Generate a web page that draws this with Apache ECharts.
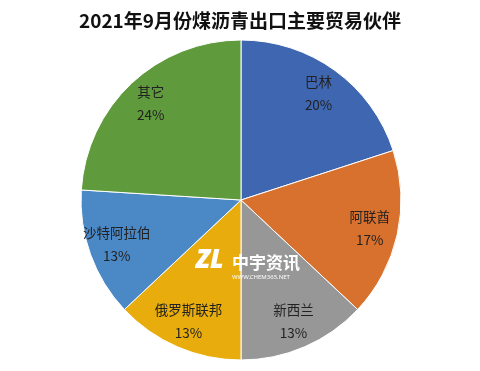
<!DOCTYPE html>
<html>
<head>
<meta charset="utf-8">
<script src="https://cdn.jsdelivr.net/npm/echarts@6/dist/echarts.min.js"></script>
<style>html,body{margin:0;padding:0;background:#fff}#c{width:480px;height:371px}</style>
</head>
<body>
<div id="c"></div>
<script>
var titleText = '2021年9月份煤沥青出口主要贸易伙伴';
var categories = ['巴林', '阿联酋', '新西兰', '俄罗斯联邦', '沙特阿拉伯', '其它'];
var shares = [20, 17, 13, 13, 13, 24];
var colors = ['#3f67b1', '#d8702e', '#979797', '#e8ad0c', '#4b88c6', '#5f9a3d'];

var data = categories.map(function (c, i) {
  return { name: c, value: shares[i], itemStyle: { color: colors[i] } };
});
var labelData = categories.map(function (c, i) {
  return { name: c, value: shares[i] };
});

var chart = echarts.init(document.getElementById('c'), null, { renderer: 'canvas' });
chart.setOption({
  animation: false,
  backgroundColor: '#fff',
  title: {
    text: titleText,
    left: 'center',
    top: 6,
    textStyle: { fontSize: 19, fontWeight: 'bold', color: '#111', fontFamily: 'Noto Sans CJK SC' }
  },
  series: [
    {
      type: 'pie',
      center: [241, 200],
      radius: [0, 160],
      startAngle: 90,
      clockwise: true,
      label: { show: false },
      labelLine: { show: false },
      itemStyle: { borderColor: '#fff', borderWidth: 1 },
      data: data,
      silent: true
    },
    {
      type: 'pie',
      center: [241, 200],
      radius: [98, 160],
      startAngle: 90,
      clockwise: true,
      silent: true,
      itemStyle: { color: 'rgba(0,0,0,0)' },
      label: {
        show: true,
        position: 'inside',
        formatter: function (p) { return p.name + '\n' + p.value + '%'; },
        fontSize: 13.5,
        lineHeight: 23,
        color: '#222',
        fontFamily: 'Noto Sans CJK SC'
      },
      labelLine: { show: false },
      data: labelData
    }
  ],
  graphic: [
    { type: 'text', z: 100, left: 196, top: 248, style: { text: 'ZL', font: 'italic 900 26px Noto Sans', fill: '#fff' } },
    { type: 'text', z: 100, left: 232, top: 254, style: { text: '中宇资讯', font: 'bold 17px Noto Sans CJK SC', fill: '#fff' } },
    { type: 'text', z: 100, left: 232, top: 274, style: { text: 'WWW.CHEM365.NET', font: '6px Noto Sans', fill: '#fff' } }
  ]
});
</script>
</body>
</html>
